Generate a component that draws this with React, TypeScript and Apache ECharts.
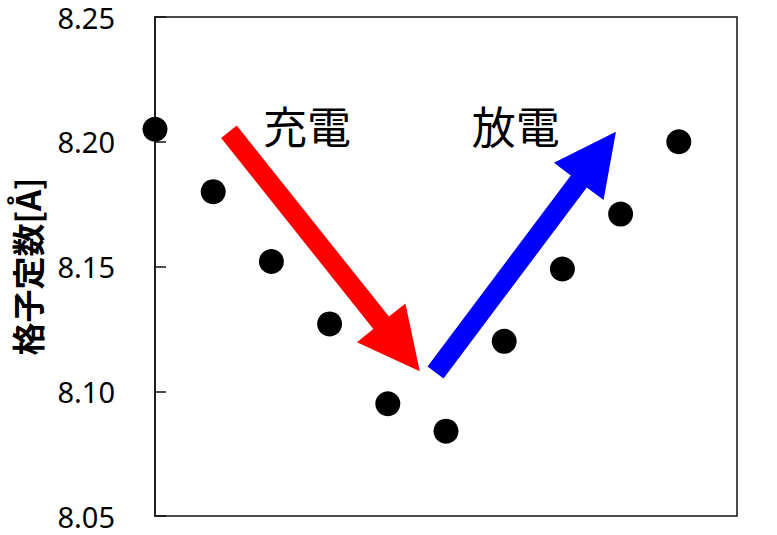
import React, { useEffect, useRef } from "react";
import * as echarts from "echarts";

// 測定点 (サイクル順)
const STEP_X = [0, 1, 2, 3, 4, 5, 6, 7, 8, 9];
const LATTICE = [8.205, 8.180, 8.152, 8.127, 8.095, 8.084, 8.120, 8.149, 8.171, 8.200];

// y 軸目盛り
const Y_MIN = 8.05;
const Y_MAX = 8.25;
const Y_STEP = 0.05;

// 注記 (データ座標)
const ARROW_NAMES = ["charge", "discharge"];
const ARROW_FROM = [[1.27, 8.204], [4.82, 8.1075]];
const ARROW_TO = [[4.55, 8.108], [7.92, 8.204]];
const ARROW_COLORS = ["#ff0000", "#0000ff"];
const NOTE_TEXT = ["充電", "放電"];
const NOTE_POS = [[2.61, 8.2067], [6.2, 8.2067]];

const arrowPoints = (s: number[], t: number[]) => {
  const shaft = 20;
  const headW = 62;
  const headL = 62;
  const dx = t[0] - s[0];
  const dy = t[1] - s[1];
  const len = Math.hypot(dx, dy);
  const ux = dx / len;
  const uy = dy / len;
  const nx = -uy;
  const ny = ux;
  const bx = t[0] - ux * headL;
  const by = t[1] - uy * headL;
  return [
    [s[0] + (nx * shaft) / 2, s[1] + (ny * shaft) / 2],
    [bx + (nx * shaft) / 2, by + (ny * shaft) / 2],
    [bx + (nx * headW) / 2, by + (ny * headW) / 2],
    [t[0], t[1]],
    [bx - (nx * headW) / 2, by - (ny * headW) / 2],
    [bx - (nx * shaft) / 2, by - (ny * shaft) / 2],
    [s[0] - (nx * shaft) / 2, s[1] - (ny * shaft) / 2],
  ];
};

const App: React.FC = () => {
  const ref = useRef<HTMLDivElement>(null);

  useEffect(() => {
    if (!ref.current) return;
    const chart = echarts.init(ref.current, undefined, { renderer: "svg" });

    chart.setOption({
      animation: false,
      grid: {
        left: 155,
        right: 40,
        top: 17,
        bottom: 19,
        show: true,
        borderColor: "#111",
        borderWidth: 1.5,
      },
      xAxis: {
        type: "value",
        min: 0,
        max: 10,
        axisLine: { show: false },
        axisTick: { show: false },
        axisLabel: { show: false },
        splitLine: { show: false },
      },
      yAxis: {
        type: "value",
        min: Y_MIN,
        max: Y_MAX,
        interval: Y_STEP,
        name: "格子定数[Å]",
        nameLocation: "middle",
        nameGap: 112,
        nameTextStyle: {
          fontFamily: "Noto Sans CJK JP",
          fontWeight: "bold",
          fontSize: 33,
          color: "#000",
        },
        axisLine: { show: true, lineStyle: { color: "#111", width: 1.5 } },
        axisTick: { show: true, inside: true, length: 11, lineStyle: { color: "#111", width: 1.5 } },
        axisLabel: {
          fontFamily: "Noto Sans",
          fontSize: 29,
          lineHeight: 30,
          color: "#000",
          margin: 40,
          formatter: (v: number) => v.toFixed(2),
        },
        splitLine: { show: false },
      },
      series: [
        {
          type: "scatter",
          clip: false,
          symbol: "circle",
          symbolSize: 25,
          itemStyle: { color: "#000", opacity: 1 },
          data: STEP_X.map((x, i) => [x, LATTICE[i]]),
        },
      ],
    });

    const px = (p: number[]) => chart.convertToPixel({ gridIndex: 0 }, p) as number[];

    const graphic: any[] = [];
    ARROW_NAMES.forEach((name, i) => {
      graphic.push({
        type: "polygon",
        id: name,
        shape: { points: arrowPoints(px(ARROW_FROM[i]), px(ARROW_TO[i])) },
        style: { fill: ARROW_COLORS[i] },
        z: 10,
      });
    });
    NOTE_TEXT.forEach((t, i) => {
      const p = px(NOTE_POS[i]);
      graphic.push({
        type: "text",
        x: p[0],
        y: p[1],
        style: {
          text: t,
          fontFamily: "Noto Sans CJK JP",
          fontSize: 44,
          fill: "#000",
          align: "center",
          verticalAlign: "middle",
        },
        z: 10,
      });
    });
    chart.setOption({ graphic });

    return () => chart.dispose();
  }, []);

  return (
    <div
      ref={ref}
      style={{ position: "absolute", left: 0, top: 0, width: 777, height: 535, background: "#fff" }}
    />
  );
};

export default App;
